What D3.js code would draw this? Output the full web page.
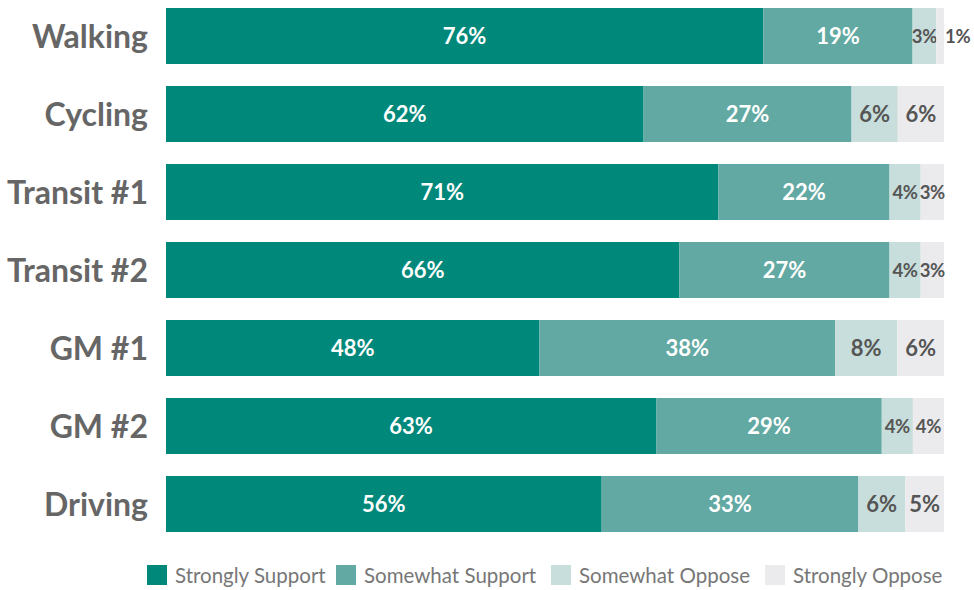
<!DOCTYPE html>
<html>
<head>
<meta charset="utf-8">
<script src="https://cdn.jsdelivr.net/npm/d3@7"></script>
<style>
  html, body { margin: 0; padding: 0; background: #fff; }
  svg { display: block; }
</style>
</head>
<body>
<svg id="chart" width="974" height="590"></svg>
<script>
// Survey responses by mode (percent)
const categories = ["Walking", "Cycling", "Transit #1", "Transit #2", "GM #1", "GM #2", "Driving"];
const seriesNames = ["Strongly Support", "Somewhat Support", "Somewhat Oppose", "Strongly Oppose"];
const stronglySupport = [76, 62, 71, 66, 48, 63, 56];
const somewhatSupport = [19, 27, 22, 27, 38, 29, 33];
const somewhatOppose  = [3, 6, 4, 4, 8, 4, 6];
const stronglyOppose  = [1, 6, 3, 3, 6, 4, 5];

const colors = ["#00887a", "#62a9a3", "#c8dedc", "#ebebed"];
const labelColors = ["#ffffff", "#ffffff", "#555555", "#555555"];

const rows = categories.map((c, i) => ({
  category: c,
  "Strongly Support": stronglySupport[i],
  "Somewhat Support": somewhatSupport[i],
  "Somewhat Oppose": somewhatOppose[i],
  "Strongly Oppose": stronglyOppose[i]
}));

const svg = d3.select("#chart");
const left = 166, right = 944;

const x = d3.scaleLinear().domain([0, 1]).range([left, right]);
const y = d3.scaleBand().domain(categories).range([8, 532]).paddingInner(22 / 78).paddingOuter(0);

// Each bar is scaled to its own total (100% stacked)
const stack = d3.stack().keys(seriesNames).offset(d3.stackOffsetExpand);
const layers = stack(rows);

const g = svg.append("g");
layers.forEach((layer, li) => {
  const lg = g.append("g");
  lg.selectAll("rect")
    .data(layer)
    .join("rect")
    .attr("x", d => x(d[0]))
    .attr("y", d => y(d.data.category))
    .attr("width", d => x(d[1]) - x(d[0]))
    .attr("height", y.bandwidth())
    .attr("fill", colors[li]);

  // Tiny segments get their label just past the end of the bar;
  // narrow segments use a slightly smaller label
  lg.selectAll("text")
    .data(layer)
    .join("text")
    .attr("x", d => {
      const v = d.data[layer.key];
      return v < 2 ? x(d[1]) + 1 : (x(d[0]) + x(d[1])) / 2;
    })
    .attr("y", d => y(d.data.category) + y.bandwidth() / 2)
    .attr("dy", "0.36em")
    .attr("text-anchor", d => d.data[layer.key] < 2 ? "start" : "middle")
    .attr("font-family", "Lato, 'Open Sans', sans-serif")
    .attr("font-weight", 700)
    .attr("font-size", d => d.data[layer.key] < 5 ? 18.5 : 22)
    .attr("letter-spacing", d => d.data[layer.key] < 5 ? -0.3 : 0)
    .attr("fill", labelColors[li])
    .text(d => d.data[layer.key] + "%");
});

// Category axis
const yAxis = d3.axisLeft(y).tickSize(0).tickPadding(18);
const ax = svg.append("g").attr("transform", `translate(${left},0)`).call(yAxis);
ax.select(".domain").remove();
ax.selectAll("text")
  .attr("font-family", "Lato, 'Open Sans', sans-serif")
  .attr("font-weight", 700)
  .attr("font-size", 32)
  .attr("fill", "#666666")
  .attr("dy", "0.36em");

// Legend
const legendX = [147, 336, 551, 765];
const legend = svg.append("g");
seriesNames.forEach((name, i) => {
  const item = legend.append("g").attr("transform", `translate(${legendX[i]},565)`);
  item.append("rect").attr("width", 20).attr("height", 20).attr("fill", colors[i]);
  item.append("text")
    .attr("x", 28)
    .attr("y", 18)
    .attr("font-family", "Lato, 'Open Sans', sans-serif")
    .attr("font-size", 20.5)
    .attr("fill", "#777777")
    .text(name);
});
</script>
</body>
</html>
